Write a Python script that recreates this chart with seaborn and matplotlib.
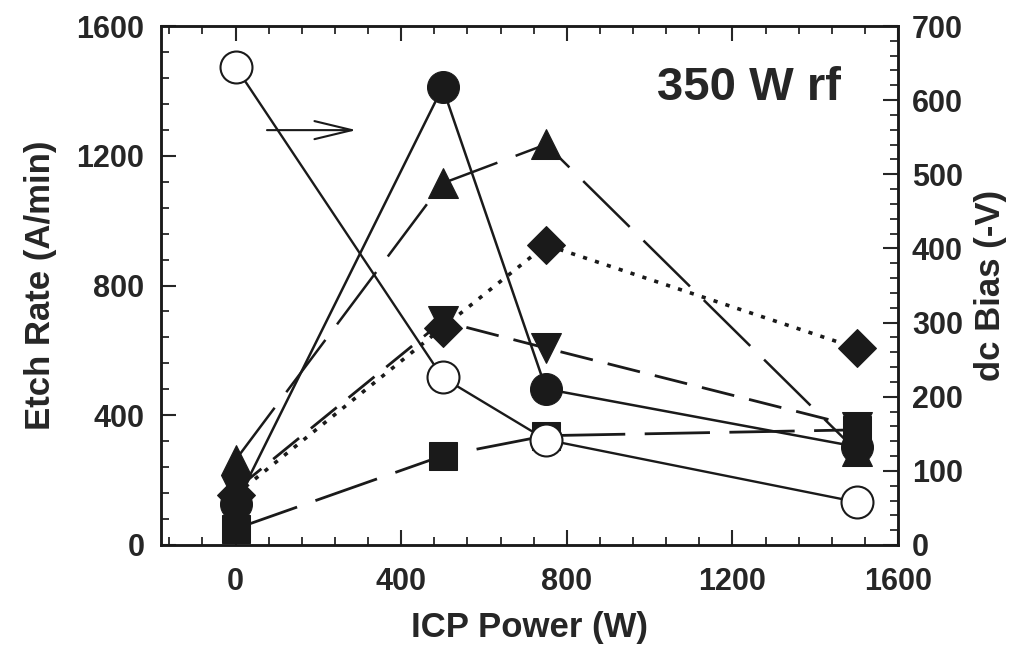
import numpy as np
import pandas as pd
import matplotlib
matplotlib.use("Agg")
import matplotlib.pyplot as plt
from matplotlib.ticker import MultipleLocator
import seaborn as sns

# ---- data ----
icp_power = [0, 500, 750, 1500]
dc_bias = [645, 226, 142, 58]              # open circles, right axis
etch_circle = [125, 1411, 481, 303]        # filled circles
etch_triangle = [262, 1115, 1235, 290]     # filled triangles up
etch_invtriangle = [170, 690, 607, 365]    # filled triangles down
etch_diamond = [155, 670, 925, 607]        # filled diamonds
etch_square = [50, 275, 337, 355]          # filled squares

x_ticks = [0, 400, 800, 1200, 1600]
left_ticks = [0, 400, 800, 1200, 1600]
right_ticks = [0, 100, 200, 300, 400, 500, 600, 700]

sns.set_theme(style="ticks")
plt.rcParams["font.family"] = ["Liberation Sans", "DejaVu Sans"]
plt.rcParams["font.weight"] = "bold"
plt.rcParams["lines.scale_dashes"] = False

fig = plt.figure(figsize=(10.09, 6.54), dpi=100)
ax = fig.add_axes([161/1009, 109/654, 737/1009, 519/654])
ax2 = ax.twinx()

common = dict(color="k", markeredgecolor="k", ax=ax)

sns.lineplot(x=icp_power, y=etch_square, marker="s", markersize=20,
             markerfacecolor="k", lw=2, linestyle=(0, (47, 14)), **common)
sns.lineplot(x=icp_power, y=etch_invtriangle, marker="v", markersize=22,
             markerfacecolor="k", lw=2, linestyle=(0, (24, 11)), **common)
sns.lineplot(x=icp_power, y=etch_diamond, marker="D", markersize=19,
             markerfacecolor="k", lw=2.6, linestyle=(0, (3, 6)), **common)
sns.lineplot(x=icp_power, y=etch_triangle, marker="^", markersize=22,
             markerfacecolor="k", lw=1.8, linestyle=(0, (47, 14)), **common)
sns.lineplot(x=icp_power, y=etch_circle, marker="o", markersize=23,
             markerfacecolor="k", lw=1.8, linestyle="-", **common)

sns.lineplot(x=icp_power, y=dc_bias, marker="o", markersize=23,
             markerfacecolor="w", markeredgecolor="k", markeredgewidth=1.5,
             color="k", lw=1.7, linestyle="-", ax=ax2)

# arrow pointing to the right axis
ax.annotate("", xy=(292, 1279), xytext=(76, 1279),
            arrowprops=dict(arrowstyle="->,head_length=2.7,head_width=0.65",
                            lw=1.5, color="k", shrinkA=0, shrinkB=0,
                            mutation_scale=10))

ax.text(0.798, 0.880, "350 W rf", transform=ax.transAxes, ha="center",
        va="center", fontsize=34, fontweight="bold")

# axes limits & ticks
ax.set_xlim(-180, 1600)
ax.set_ylim(0, 1600)
ax2.set_ylim(0, 700)
ax.set_xticks(x_ticks)
ax.set_yticks(left_ticks)
ax2.set_yticks(right_ticks)
ax.xaxis.set_minor_locator(MultipleLocator(80))
ax.yaxis.set_minor_locator(MultipleLocator(80))
ax2.yaxis.set_minor_locator(MultipleLocator(20))

ax.xaxis.set_ticks_position("both")
ax.tick_params(axis="x", which="both", direction="in", top=True, bottom=True)
ax.tick_params(axis="y", which="both", direction="in", left=True, right=False)
ax.tick_params(which="major", length=11, width=1.5, labelsize=22)
ax.tick_params(which="minor", length=5.5, width=1.3)
ax.tick_params(axis="x", which="major", pad=16)
ax.tick_params(axis="y", which="major", pad=12)
ax2.tick_params(axis="y", which="both", direction="in", right=True, left=False)
ax2.tick_params(which="major", length=11, width=1.5, labelsize=22, pad=10)
ax2.tick_params(which="minor", length=5.5, width=1.3)

for a in (ax, ax2):
    for s in a.spines.values():
        s.set_linewidth(1.8)
        s.set_color("k")
    for lab in a.get_xticklabels() + a.get_yticklabels():
        lab.set_fontweight("bold")

ax.set_xlabel("ICP Power (W)", fontsize=25, fontweight="bold", labelpad=10)
ax.set_ylabel("Etch Rate (A/min)", fontsize=25, fontweight="bold", labelpad=14)
ax2.set_ylabel("dc Bias (-V)", fontsize=25, fontweight="bold", labelpad=8)

fig.savefig("out.png", dpi=100)
